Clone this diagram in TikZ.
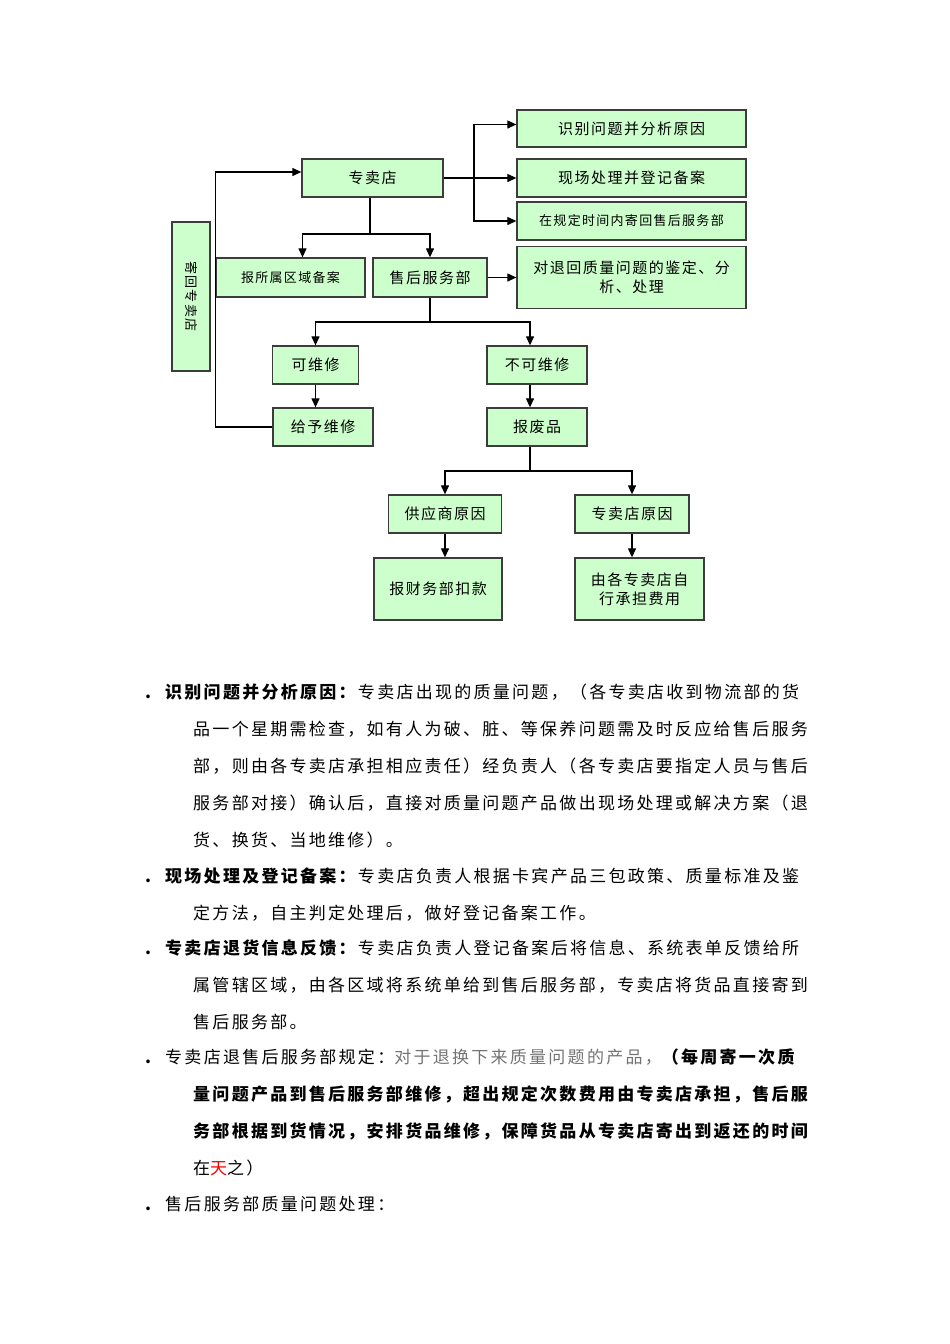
\documentclass[tikz,border=0pt]{standalone}
\usepackage{fontspec}
\setmainfont{Noto Sans CJK SC}
\newfontfamily\bodyfont[LetterSpace=13.4]{Noto Sans CJK SC}
\newfontfamily\boxfont[LetterSpace=10]{Noto Sans CJK SC}
\usetikzlibrary{arrows.meta}
\definecolor{boxgreen}{HTML}{CCFFCC}
\definecolor{boxline}{HTML}{3C3C3C}

\begin{document}
\begin{tikzpicture}[x=1pt, y=-1pt,
    box/.style={draw=boxline, fill=boxgreen, line width=1.3pt, inner sep=2pt, align=center,
        font=\boxfont\fontsize{15}{19}\selectfont},
    smallbox/.style={box, font=\boxfont\fontsize{13}{16}\selectfont},
    arr/.style={line width=1.2pt, -{Triangle[length=9pt,width=8pt]}},
    link/.style={line width=1.2pt},
    line/.style={anchor=west, inner sep=0pt, font=\bodyfont\fontsize{17}{17}\selectfont}]
\useasboundingbox (0,0) rectangle (950,1344);

% flow chart boxes
\node (identify) at (631.5,128.5) [box, minimum width=229pt, minimum height=37pt] {识别问题并分析原因};
\node (onsite) at (631.5,178) [box, minimum width=229pt, minimum height=38pt] {现场处理并登记备案};
\node (sendback) at (631.5,221) [smallbox, minimum width=229pt, minimum height=38pt] {在规定时间内寄回售后服务部};
\node (analyse) at (631.5,277.5) [box, minimum width=229pt, minimum height=62pt] {对退回质量问题的鉴定、分\\析、处理};
\node (shop) at (372.5,178) [box, minimum width=141pt, minimum height=38pt] {专卖店};
\node (region) at (290.5,277.5) [smallbox, minimum width=149pt, minimum height=39pt] {报所属区域备案};
\node (service) at (430,277.5) [box, minimum width=114pt, minimum height=39pt] {售后服务部};
\node (returnbox) at (191,296.5) [box, rotate=-90, minimum width=149pt, minimum height=38pt,
    font=\boxfont\fontsize{13}{15}\selectfont] {寄回专卖店};
\node (repair) at (315.5,365) [box, minimum width=86pt, minimum height=38pt] {可维修};
\node (fix) at (323,427) [box, minimum width=100pt, minimum height=38pt] {给予维修};
\node (norepair) at (537,365) [box, minimum width=100pt, minimum height=38pt] {不可维修};
\node (scrap) at (537,427) [box, minimum width=100pt, minimum height=38pt] {报废品};
\node (supplier) at (445,514) [box, minimum width=113pt, minimum height=38pt] {供应商原因};
\node (shopcause) at (632,514) [box, minimum width=114pt, minimum height=38pt] {专卖店原因};
\node (finance) at (438,589) [box, minimum width=128pt, minimum height=62pt] {报财务部扣款};
\node (shoppay) at (639.5,589) [box, minimum width=129pt, minimum height=62pt] {由各专卖店自\\行承担费用};

% connectors
\coordinate (split) at (474,178);
\coordinate (fork1) at (370,234);
\coordinate (fork2) at (430,322);
\coordinate (fork3) at (530,471);

\draw[arr] (shop.east) -- (onsite.west);
\draw[arr] (split) |- ([yshift=4pt]identify.west);
\draw[arr] (split) |- (sendback.west);

\draw[link] (shop.south -| fork1) -- (fork1);
\draw[arr] (fork1) -| ([xshift=12pt]region.north);
\draw[arr] (fork1) -| (service.north);
\draw[arr] (service.east) -- (service.east -| analyse.west);

\draw[link] (service.south) -- (fork2);
\draw[arr] (fork2) -| (repair.north);
\draw[arr] (fork2) -| ([xshift=-7pt]norepair.north);
\draw[arr] (repair.south) -- (repair.south |- fix.north);
\draw[arr] ([xshift=-7pt]norepair.south) -- ([xshift=-7pt]scrap.north);

\draw[link] ([xshift=-7pt]scrap.south) -- (fork3);
\draw[arr] (fork3) -| (supplier.north);
\draw[arr] (fork3) -| (shopcause.north);
\draw[arr] (supplier.south) -- (supplier.south |- finance.north);
\draw[arr] (shopcause.south) -- (shopcause.south |- shoppay.north);

\draw[arr] (fix.west) -- (fix.west -| region.west) |- ([yshift=6pt]shop.west);

% text below
\node (p1a) at (145,692) [line] {\makebox[20pt][l]{\textbf{.}}\textbf{识别问题并分析原因：}专卖店出现的质量问题，（各专卖店收到物流部的货};
\node (p1b) at (193,729) [line] {品一个星期需检查，如有人为破、脏、等保养问题需及时反应给售后服务};
\node (p1c) at (193,766) [line] {部，则由各专卖店承担相应责任）经负责人（各专卖店要指定人员与售后};
\node (p1d) at (193,803) [line] {服务部对接）确认后，直接对质量问题产品做出现场处理或解决方案（退};
\node (p1e) at (193,840) [line] {货、换货、当地维修）。};

\node (p2a) at (145,876) [line] {\makebox[20pt][l]{\textbf{.}}\textbf{现场处理及登记备案：}专卖店负责人根据卡宾产品三包政策、质量标准及鉴};
\node (p2b) at (193,913) [line] {定方法，自主判定处理后，做好登记备案工作。};

\node (p3a) at (145,948) [line] {\makebox[20pt][l]{\textbf{.}}\textbf{专卖店退货信息反馈：}专卖店负责人登记备案后将信息、系统表单反馈给所};
\node (p3b) at (193,985) [line] {属管辖区域，由各区域将系统单给到售后服务部，专卖店将货品直接寄到};
\node (p3c) at (193,1022) [line] {售后服务部。};

\node (p4a) at (145,1057) [line] {\makebox[20pt][l]{\textbf{.}}专卖店退售后服务部规定：{\color{black!55}对于退换下来质量问题的产品，}\textbf{（每周寄一次质}};
\node (p4b) at (193,1094) [line] {\textbf{量问题产品到售后服务部维修，超出规定次数费用由专卖店承担，售后服}};
\node (p4c) at (193,1131) [line] {\textbf{务部根据到货情况，安排货品维修，保障货品从专卖店寄出到返还的时间}};
\node (p4d) at (193,1168) [line] {在{\color{red}天}之）};

\node (p5a) at (145,1204) [line] {\makebox[20pt][l]{\textbf{.}}售后服务部质量问题处理：};
\end{tikzpicture}
\end{document}
